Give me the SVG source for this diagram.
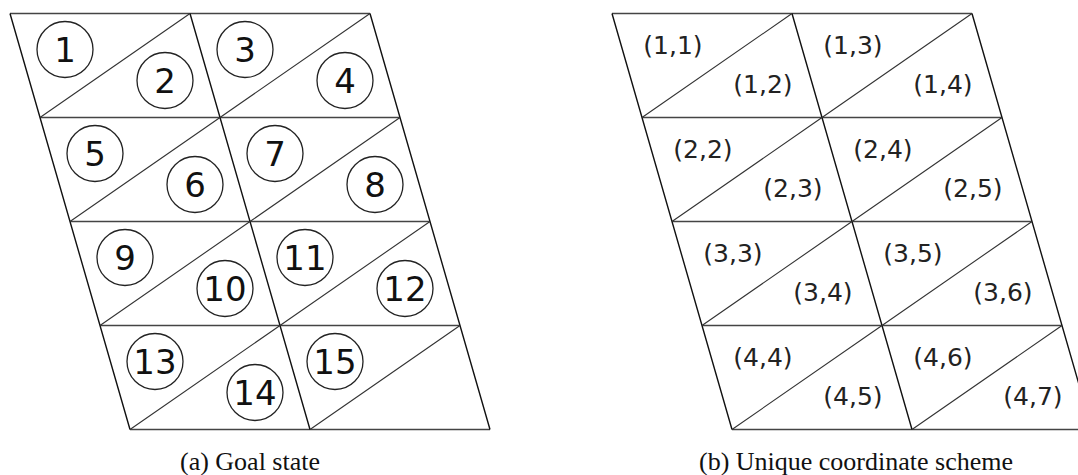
<svg xmlns="http://www.w3.org/2000/svg" width="1078" height="475" viewBox="0 0 1078 475">
<style>
.h{stroke:#444;stroke-width:1.7;fill:none}
.s{stroke:#111;stroke-width:1.4;fill:none}
.d{stroke:#333;stroke-width:1.1;fill:none}
.c{stroke:#222;stroke-width:1.3;fill:none}
.n{font-family:"DejaVu Sans",Verdana,sans-serif;font-size:34px;fill:#111;text-anchor:middle}
.p{font-family:"DejaVu Sans",Verdana,sans-serif;font-size:25px;fill:#222;text-anchor:middle}
.cap{font-family:"Liberation Serif","Times New Roman",serif;font-size:26px;fill:#111;text-anchor:middle}
</style>
<rect width="1078" height="475" fill="#fff"/>
<defs>
<g id="grid">
<path class="h" d="M10,13.5H370M40,117.5H400M70,221.5H430M100,325.5H460M130,429.5H490"/>
<path class="s" d="M10,13.5L130,429.5M190,13.5L310,429.5M370,13.5L490,429.5"/>
<path class="d" d="M40,117.5L190,13.5M220,117.5L370,13.5M70,221.5L220,117.5M250,221.5L400,117.5M100,325.5L250,221.5M280,325.5L430,221.5M130,429.5L280,325.5M310,429.5L460,325.5"/>
</g>
</defs>
<g id="connectors">
<use href="#grid"/>
<use href="#grid" transform="translate(602,0)"/>
</g>
<g id="goal-state">
<g id="n1"><circle class="c" cx="65" cy="49.5" r="28"/><text class="n" x="65" y="62">1</text></g>
<g id="n2"><circle class="c" cx="165" cy="80.5" r="28"/><text class="n" x="165" y="93">2</text></g>
<g id="n3"><circle class="c" cx="245" cy="49.5" r="28"/><text class="n" x="245" y="62">3</text></g>
<g id="n4"><circle class="c" cx="345" cy="80.5" r="28"/><text class="n" x="345" y="93">4</text></g>
<g id="n5"><circle class="c" cx="95" cy="153.5" r="28"/><text class="n" x="95" y="166">5</text></g>
<g id="n6"><circle class="c" cx="195" cy="184.5" r="28"/><text class="n" x="195" y="197">6</text></g>
<g id="n7"><circle class="c" cx="275" cy="153.5" r="28"/><text class="n" x="275" y="166">7</text></g>
<g id="n8"><circle class="c" cx="375" cy="184.5" r="28"/><text class="n" x="375" y="197">8</text></g>
<g id="n9"><circle class="c" cx="125" cy="257.5" r="28"/><text class="n" x="125" y="270">9</text></g>
<g id="n10"><circle class="c" cx="225" cy="288.5" r="28"/><text class="n" x="225" y="301">10</text></g>
<g id="n11"><circle class="c" cx="305" cy="257.5" r="28"/><text class="n" x="305" y="270">11</text></g>
<g id="n12"><circle class="c" cx="405" cy="288.5" r="28"/><text class="n" x="405" y="301">12</text></g>
<g id="n13"><circle class="c" cx="155" cy="361.5" r="28"/><text class="n" x="155" y="374">13</text></g>
<g id="n14"><circle class="c" cx="255" cy="392.5" r="28"/><text class="n" x="255" y="405">14</text></g>
<g id="n15"><circle class="c" cx="335" cy="361.5" r="28"/><text class="n" x="335" y="374">15</text></g>
</g>
<g id="coordinates">
<g id="c11"><text class="p" x="673" y="54">(1,1)</text></g>
<g id="c12"><text class="p" x="763" y="93">(1,2)</text></g>
<g id="c13"><text class="p" x="853" y="54">(1,3)</text></g>
<g id="c14"><text class="p" x="943" y="93">(1,4)</text></g>
<g id="c22"><text class="p" x="703" y="158">(2,2)</text></g>
<g id="c23"><text class="p" x="793" y="197">(2,3)</text></g>
<g id="c24"><text class="p" x="883" y="158">(2,4)</text></g>
<g id="c25"><text class="p" x="973" y="197">(2,5)</text></g>
<g id="c33"><text class="p" x="733" y="262">(3,3)</text></g>
<g id="c34"><text class="p" x="823" y="301">(3,4)</text></g>
<g id="c35"><text class="p" x="913" y="262">(3,5)</text></g>
<g id="c36"><text class="p" x="1003" y="301">(3,6)</text></g>
<g id="c44"><text class="p" x="763" y="366">(4,4)</text></g>
<g id="c45"><text class="p" x="853" y="405">(4,5)</text></g>
<g id="c46"><text class="p" x="943" y="366">(4,6)</text></g>
<g id="c47"><text class="p" x="1033" y="405">(4,7)</text></g>
</g>
<g id="captions">
<text class="cap" x="250" y="470">(a) Goal state</text>
<text class="cap" x="856" y="470">(b) Unique coordinate scheme</text>
</g>
</svg>
